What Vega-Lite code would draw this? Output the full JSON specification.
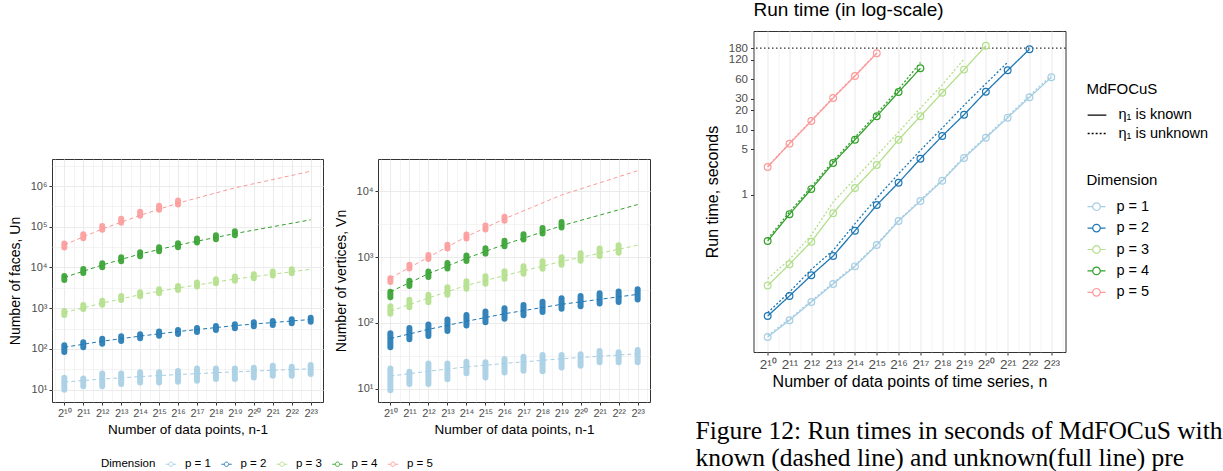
{
  "$schema": "https://vega.github.io/schema/vega-lite/v6.json",
  "padding": {"left": 7, "top": 0, "right": 0, "bottom": 0},
  "background": "white",
  "config": {
    "font": "Liberation Sans",
    "view": {"stroke": "#333333", "strokeWidth": 1},
    "axis": {"domain": false, "tickColor": "#333333", "tickSize": 3, "tickWidth": 1, "labelColor": "#4d4d4d", "titleColor": "black", "titleFontWeight": "normal", "gridColor": "#ebebeb", "labelFlush": false, "labelOverlap": false, "grid": true},
    "legend": {"titleFontWeight": "normal", "titleColor": "black", "labelColor": "black", "padding": 0, "symbolFillColor": "transparent"},
    "title": {"fontWeight": "normal", "color": "black"}
  },
  "datasets": {
    "faces": [
      {"dim":"p = 1","k":10,"lo":10.0,"hi":19.7},{"dim":"p = 1","k":11,"lo":12.1,"hi":19.0},{"dim":"p = 1","k":12,"lo":12.1,"hi":25.2},{"dim":"p = 1","k":13,"lo":13.8,"hi":25.2},{"dim":"p = 1","k":14,"lo":15.1,"hi":26.7},{"dim":"p = 1","k":15,"lo":15.1,"hi":26.7},{"dim":"p = 1","k":16,"lo":15.7,"hi":28.7},{"dim":"p = 1","k":17,"lo":16.6,"hi":33.4},{"dim":"p = 1","k":18,"lo":18.3,"hi":33.4},{"dim":"p = 1","k":19,"lo":18.3,"hi":33.4},{"dim":"p = 1","k":20,"lo":20.1,"hi":34.7},{"dim":"p = 1","k":21,"lo":22.1,"hi":38.8},{"dim":"p = 1","k":22,"lo":22.1,"hi":36.7},{"dim":"p = 1","k":23,"lo":24.3,"hi":40.3},
      {"dim":"p = 2","k":10,"lo":84,"hi":124},{"dim":"p = 2","k":11,"lo":111,"hi":147},{"dim":"p = 2","k":12,"lo":135,"hi":178},{"dim":"p = 2","k":13,"lo":156,"hi":206},{"dim":"p = 2","k":14,"lo":183,"hi":230},{"dim":"p = 2","k":15,"lo":212,"hi":267},{"dim":"p = 2","k":16,"lo":234,"hi":293},{"dim":"p = 2","k":17,"lo":262,"hi":328},{"dim":"p = 2","k":18,"lo":293,"hi":367},{"dim":"p = 2","k":19,"lo":322,"hi":404},{"dim":"p = 2","k":20,"lo":362,"hi":454},{"dim":"p = 2","k":21,"lo":389,"hi":488},{"dim":"p = 2","k":22,"lo":429,"hi":538},{"dim":"p = 2","k":23,"lo":469,"hi":588},
      {"dim":"p = 3","k":10,"lo":684,"hi":858},{"dim":"p = 3","k":11,"lo":962,"hi":1206},{"dim":"p = 3","k":12,"lo":1223,"hi":1534},{"dim":"p = 3","k":13,"lo":1598,"hi":2005},{"dim":"p = 3","k":14,"lo":1973,"hi":2475},{"dim":"p = 3","k":15,"lo":2339,"hi":2934},{"dim":"p = 3","k":16,"lo":2813,"hi":3528},{"dim":"p = 3","k":17,"lo":3393,"hi":4256},{"dim":"p = 3","k":18,"lo":4107,"hi":5152},{"dim":"p = 3","k":19,"lo":4759,"hi":5970},{"dim":"p = 3","k":20,"lo":5455,"hi":6843},{"dim":"p = 3","k":21,"lo":6321,"hi":7930},{"dim":"p = 3","k":22,"lo":7241,"hi":9083},
      {"dim":"p = 4","k":10,"lo":4960,"hi":6220},{"dim":"p = 4","k":11,"lo":7370,"hi":9240},{"dim":"p = 4","k":12,"lo":10200,"hi":12800},{"dim":"p = 4","k":13,"lo":14300,"hi":17900},{"dim":"p = 4","k":14,"lo":18900,"hi":23700},{"dim":"p = 4","k":15,"lo":25200,"hi":31600},{"dim":"p = 4","k":16,"lo":31500,"hi":39500},{"dim":"p = 4","k":17,"lo":40900,"hi":51300},{"dim":"p = 4","k":18,"lo":49600,"hi":62200},{"dim":"p = 4","k":19,"lo":62100,"hi":78000},
      {"dim":"p = 5","k":10,"lo":30800,"hi":38600},{"dim":"p = 5","k":11,"lo":52400,"hi":65700},{"dim":"p = 5","k":12,"lo":83900,"hi":105000},{"dim":"p = 5","k":13,"lo":125000,"hi":157000},{"dim":"p = 5","k":14,"lo":186000,"hi":233000},{"dim":"p = 5","k":15,"lo":260000,"hi":326000},{"dim":"p = 5","k":16,"lo":352000,"hi":441000}
    ],
    "faces_fit": [
      {"dim":"p = 1","k":10,"u":15.4},{"dim":"p = 1","k":12,"u":18.3},{"dim":"p = 1","k":14,"u":21.0},{"dim":"p = 1","k":16,"u":23.6},{"dim":"p = 1","k":19,"u":27.5},{"dim":"p = 1","k":23,"u":32.8},
      {"dim":"p = 2","k":10,"u":110},{"dim":"p = 2","k":12,"u":155},{"dim":"p = 2","k":14,"u":207},{"dim":"p = 2","k":16,"u":268},{"dim":"p = 2","k":19,"u":375},{"dim":"p = 2","k":23,"u":530},
      {"dim":"p = 3","k":10,"u":780},{"dim":"p = 3","k":12,"u":1340},{"dim":"p = 3","k":14,"u":2150},{"dim":"p = 3","k":16,"u":3150},{"dim":"p = 3","k":19,"u":5200},{"dim":"p = 3","k":23,"u":9000},
      {"dim":"p = 4","k":10,"u":5700},{"dim":"p = 4","k":12,"u":11500},{"dim":"p = 4","k":14,"u":21500},{"dim":"p = 4","k":16,"u":35500},{"dim":"p = 4","k":19,"u":68000},{"dim":"p = 4","k":23,"u":148000},
      {"dim":"p = 5","k":10,"u":36000},{"dim":"p = 5","k":12,"u":88000},{"dim":"p = 5","k":14,"u":190000},{"dim":"p = 5","k":16,"u":380000},{"dim":"p = 5","k":19,"u":900000},{"dim":"p = 5","k":23,"u":2300000}
    ],
    "vertices": [
      {"dim":"p = 1","k":10,"lo":9.5,"hi":20.4},{"dim":"p = 1","k":11,"lo":11.8,"hi":18.2},{"dim":"p = 1","k":12,"lo":11.8,"hi":24.3},{"dim":"p = 1","k":13,"lo":14.0,"hi":24.3},{"dim":"p = 1","k":14,"lo":17.3,"hi":25.8},{"dim":"p = 1","k":15,"lo":14.9,"hi":25.2},{"dim":"p = 1","k":16,"lo":17.7,"hi":28.3},{"dim":"p = 1","k":17,"lo":18.8,"hi":30.7},{"dim":"p = 1","k":18,"lo":18.4,"hi":32.6},{"dim":"p = 1","k":19,"lo":21.1,"hi":32.6},{"dim":"p = 1","k":20,"lo":22.4,"hi":33.4},{"dim":"p = 1","k":21,"lo":25.2,"hi":37.5},{"dim":"p = 1","k":22,"lo":25.2,"hi":35.8},{"dim":"p = 1","k":23,"lo":25.2,"hi":38.9},
      {"dim":"p = 2","k":10,"lo":42.7,"hi":69.9},{"dim":"p = 2","k":11,"lo":56.6,"hi":84.2},{"dim":"p = 2","k":12,"lo":63.6,"hi":94.7},{"dim":"p = 2","k":13,"lo":75.8,"hi":112.9},{"dim":"p = 2","k":14,"lo":91.7,"hi":132},{"dim":"p = 2","k":15,"lo":103,"hi":149},{"dim":"p = 2","k":16,"lo":116,"hi":167},{"dim":"p = 2","k":17,"lo":131,"hi":188},{"dim":"p = 2","k":18,"lo":147,"hi":211},{"dim":"p = 2","k":19,"lo":165,"hi":238},{"dim":"p = 2","k":20,"lo":179,"hi":258},{"dim":"p = 2","k":21,"lo":197,"hi":283},{"dim":"p = 2","k":22,"lo":208,"hi":300},{"dim":"p = 2","k":23,"lo":227,"hi":326},
      {"dim":"p = 3","k":10,"lo":138,"hi":179},{"dim":"p = 3","k":11,"lo":174,"hi":226},{"dim":"p = 3","k":12,"lo":207,"hi":269},{"dim":"p = 3","k":13,"lo":268,"hi":348},{"dim":"p = 3","k":14,"lo":330,"hi":429},{"dim":"p = 3","k":15,"lo":394,"hi":512},{"dim":"p = 3","k":16,"lo":469,"hi":610},{"dim":"p = 3","k":17,"lo":560,"hi":727},{"dim":"p = 3","k":18,"lo":668,"hi":868},{"dim":"p = 3","k":19,"lo":768,"hi":998},{"dim":"p = 3","k":20,"lo":883,"hi":1148},{"dim":"p = 3","k":21,"lo":1040,"hi":1352},{"dim":"p = 3","k":22,"lo":1170,"hi":1521},
      {"dim":"p = 4","k":10,"lo":246,"hi":298},{"dim":"p = 4","k":11,"lo":363,"hi":439},{"dim":"p = 4","k":12,"lo":498,"hi":603},{"dim":"p = 4","k":13,"lo":675,"hi":817},{"dim":"p = 4","k":14,"lo":875,"hi":1058},{"dim":"p = 4","k":15,"lo":1132,"hi":1370},{"dim":"p = 4","k":16,"lo":1461,"hi":1768},{"dim":"p = 4","k":17,"lo":1847,"hi":2235},{"dim":"p = 4","k":18,"lo":2284,"hi":2763},{"dim":"p = 4","k":19,"lo":2818,"hi":3410},
      {"dim":"p = 5","k":10,"lo":420,"hi":480},{"dim":"p = 5","k":11,"lo":670,"hi":767},{"dim":"p = 5","k":12,"lo":941,"hi":1077},{"dim":"p = 5","k":13,"lo":1353,"hi":1549},{"dim":"p = 5","k":14,"lo":1922,"hi":2201},{"dim":"p = 5","k":15,"lo":2636,"hi":3017},{"dim":"p = 5","k":16,"lo":3577,"hi":4095}
    ],
    "vertices_fit": [
      {"dim":"p = 1","k":10,"v":15.6},{"dim":"p = 1","k":12,"v":18.5},{"dim":"p = 1","k":14,"v":21.5},{"dim":"p = 1","k":16,"v":24.3},{"dim":"p = 1","k":19,"v":28.6},{"dim":"p = 1","k":23,"v":34},
      {"dim":"p = 2","k":10,"v":58},{"dim":"p = 2","k":12,"v":80},{"dim":"p = 2","k":14,"v":106},{"dim":"p = 2","k":16,"v":138},{"dim":"p = 2","k":19,"v":192},{"dim":"p = 2","k":23,"v":272},
      {"dim":"p = 3","k":10,"v":151},{"dim":"p = 3","k":12,"v":240},{"dim":"p = 3","k":14,"v":372},{"dim":"p = 3","k":16,"v":525},{"dim":"p = 3","k":19,"v":860},{"dim":"p = 3","k":23,"v":1520},
      {"dim":"p = 4","k":10,"v":298},{"dim":"p = 4","k":12,"v":560},{"dim":"p = 4","k":14,"v":960},{"dim":"p = 4","k":16,"v":1560},{"dim":"p = 4","k":19,"v":3000},{"dim":"p = 4","k":23,"v":6300},
      {"dim":"p = 5","k":10,"v":480},{"dim":"p = 5","k":12,"v":1000},{"dim":"p = 5","k":14,"v":2050},{"dim":"p = 5","k":16,"v":3830},{"dim":"p = 5","k":19,"v":8800},{"dim":"p = 5","k":23,"v":20600}
    ],
    "runtime": [
      {"dim":"p = 1","type":"η₁ is known","k":10,"t":0.00647},{"dim":"p = 1","type":"η₁ is known","k":11,"t":0.0117},{"dim":"p = 1","type":"η₁ is known","k":12,"t":0.0223},{"dim":"p = 1","type":"η₁ is known","k":13,"t":0.0423},{"dim":"p = 1","type":"η₁ is known","k":14,"t":0.079},{"dim":"p = 1","type":"η₁ is known","k":15,"t":0.168},{"dim":"p = 1","type":"η₁ is known","k":16,"t":0.394},{"dim":"p = 1","type":"η₁ is known","k":17,"t":0.80},{"dim":"p = 1","type":"η₁ is known","k":18,"t":1.64},{"dim":"p = 1","type":"η₁ is known","k":19,"t":3.67},{"dim":"p = 1","type":"η₁ is known","k":20,"t":7.5},{"dim":"p = 1","type":"η₁ is known","k":21,"t":15.3},{"dim":"p = 1","type":"η₁ is known","k":22,"t":31.5},{"dim":"p = 1","type":"η₁ is known","k":23,"t":64},
      {"dim":"p = 2","type":"η₁ is known","k":10,"t":0.0136},{"dim":"p = 2","type":"η₁ is known","k":11,"t":0.0277},{"dim":"p = 2","type":"η₁ is known","k":12,"t":0.0575},{"dim":"p = 2","type":"η₁ is known","k":13,"t":0.114},{"dim":"p = 2","type":"η₁ is known","k":14,"t":0.279},{"dim":"p = 2","type":"η₁ is known","k":15,"t":0.695},{"dim":"p = 2","type":"η₁ is known","k":16,"t":1.53},{"dim":"p = 2","type":"η₁ is known","k":17,"t":3.58},{"dim":"p = 2","type":"η₁ is known","k":18,"t":8.0},{"dim":"p = 2","type":"η₁ is known","k":19,"t":17.0},{"dim":"p = 2","type":"η₁ is known","k":20,"t":38.4},{"dim":"p = 2","type":"η₁ is known","k":21,"t":82},{"dim":"p = 2","type":"η₁ is known","k":22,"t":173},
      {"dim":"p = 3","type":"η₁ is known","k":10,"t":0.040},{"dim":"p = 3","type":"η₁ is known","k":11,"t":0.085},{"dim":"p = 3","type":"η₁ is known","k":12,"t":0.189},{"dim":"p = 3","type":"η₁ is known","k":13,"t":0.52},{"dim":"p = 3","type":"η₁ is known","k":14,"t":1.27},{"dim":"p = 3","type":"η₁ is known","k":15,"t":2.86},{"dim":"p = 3","type":"η₁ is known","k":16,"t":7.0},{"dim":"p = 3","type":"η₁ is known","k":17,"t":16.1},{"dim":"p = 3","type":"η₁ is known","k":18,"t":37},{"dim":"p = 3","type":"η₁ is known","k":19,"t":84},{"dim":"p = 3","type":"η₁ is known","k":20,"t":196},
      {"dim":"p = 4","type":"η₁ is known","k":10,"t":0.194},{"dim":"p = 4","type":"η₁ is known","k":11,"t":0.50},{"dim":"p = 4","type":"η₁ is known","k":12,"t":1.22},{"dim":"p = 4","type":"η₁ is known","k":13,"t":3.07},{"dim":"p = 4","type":"η₁ is known","k":14,"t":7.0},{"dim":"p = 4","type":"η₁ is known","k":15,"t":16.1},{"dim":"p = 4","type":"η₁ is known","k":16,"t":38},{"dim":"p = 4","type":"η₁ is known","k":17,"t":88},
      {"dim":"p = 5","type":"η₁ is known","k":10,"t":2.67},{"dim":"p = 5","type":"η₁ is known","k":11,"t":6.1},{"dim":"p = 5","type":"η₁ is known","k":12,"t":13.6},{"dim":"p = 5","type":"η₁ is known","k":13,"t":30.7},{"dim":"p = 5","type":"η₁ is known","k":14,"t":67},{"dim":"p = 5","type":"η₁ is known","k":15,"t":150},
      {"dim":"p = 1","type":"η₁ is unknown","k":10,"t":0.0068},{"dim":"p = 1","type":"η₁ is unknown","k":11,"t":0.0123},{"dim":"p = 1","type":"η₁ is unknown","k":12,"t":0.0232},{"dim":"p = 1","type":"η₁ is unknown","k":13,"t":0.044},{"dim":"p = 1","type":"η₁ is unknown","k":14,"t":0.082},{"dim":"p = 1","type":"η₁ is unknown","k":15,"t":0.174},{"dim":"p = 1","type":"η₁ is unknown","k":16,"t":0.405},{"dim":"p = 1","type":"η₁ is unknown","k":17,"t":0.83},{"dim":"p = 1","type":"η₁ is unknown","k":18,"t":1.70},{"dim":"p = 1","type":"η₁ is unknown","k":19,"t":3.82},{"dim":"p = 1","type":"η₁ is unknown","k":20,"t":7.8},{"dim":"p = 1","type":"η₁ is unknown","k":21,"t":16.0},{"dim":"p = 1","type":"η₁ is unknown","k":22,"t":33.5},{"dim":"p = 1","type":"η₁ is unknown","k":23,"t":68},
      {"dim":"p = 2","type":"η₁ is unknown","k":10,"t":0.0153},{"dim":"p = 2","type":"η₁ is unknown","k":11,"t":0.0318},{"dim":"p = 2","type":"η₁ is unknown","k":12,"t":0.071},{"dim":"p = 2","type":"η₁ is unknown","k":13,"t":0.139},{"dim":"p = 2","type":"η₁ is unknown","k":14,"t":0.358},{"dim":"p = 2","type":"η₁ is unknown","k":15,"t":0.89},{"dim":"p = 2","type":"η₁ is unknown","k":16,"t":2.1},{"dim":"p = 2","type":"η₁ is unknown","k":17,"t":4.8},{"dim":"p = 2","type":"η₁ is unknown","k":18,"t":10.6},{"dim":"p = 2","type":"η₁ is unknown","k":19,"t":23.7},{"dim":"p = 2","type":"η₁ is unknown","k":20,"t":51},{"dim":"p = 2","type":"η₁ is unknown","k":21,"t":109},
      {"dim":"p = 3","type":"η₁ is unknown","k":10,"t":0.051},{"dim":"p = 3","type":"η₁ is unknown","k":11,"t":0.101},{"dim":"p = 3","type":"η₁ is unknown","k":12,"t":0.24},{"dim":"p = 3","type":"η₁ is unknown","k":13,"t":0.77},{"dim":"p = 3","type":"η₁ is unknown","k":14,"t":1.76},{"dim":"p = 3","type":"η₁ is unknown","k":15,"t":4.0},{"dim":"p = 3","type":"η₁ is unknown","k":16,"t":9.2},{"dim":"p = 3","type":"η₁ is unknown","k":17,"t":21.6},{"dim":"p = 3","type":"η₁ is unknown","k":18,"t":49},{"dim":"p = 3","type":"η₁ is unknown","k":19,"t":122},
      {"dim":"p = 4","type":"η₁ is unknown","k":10,"t":0.21},{"dim":"p = 4","type":"η₁ is unknown","k":11,"t":0.54},{"dim":"p = 4","type":"η₁ is unknown","k":12,"t":1.32},{"dim":"p = 4","type":"η₁ is unknown","k":13,"t":3.3},{"dim":"p = 4","type":"η₁ is unknown","k":14,"t":7.6},{"dim":"p = 4","type":"η₁ is unknown","k":15,"t":17.6},{"dim":"p = 4","type":"η₁ is unknown","k":16,"t":42},{"dim":"p = 4","type":"η₁ is unknown","k":17,"t":108},
      {"dim":"p = 5","type":"η₁ is unknown","k":10,"t":2.72},{"dim":"p = 5","type":"η₁ is unknown","k":11,"t":6.2},{"dim":"p = 5","type":"η₁ is unknown","k":12,"t":13.9},{"dim":"p = 5","type":"η₁ is unknown","k":13,"t":31.3},{"dim":"p = 5","type":"η₁ is unknown","k":14,"t":68.5},{"dim":"p = 5","type":"η₁ is unknown","k":15,"t":153}
    ],
    "limit": [{"t": 180}],
    "caption": [
      {"line": 1, "text": "Figure 12: Run times in seconds of MdFOCuS with"},
      {"line": 2, "text": "known (dashed line) and unknown(full line) pre"}
    ]
  },
  "spacing": 44.5,
  "hconcat": [
    {
      "spacing": 0,
      "bounds": "flush",
      "vconcat": [
        {"width": 10, "height": 128, "view": {"stroke": null}, "data": {"values": []}, "mark": "text"},
        {
          "spacing": 55,
          "bounds": "flush",
          "resolve": {"legend": {"color": "independent"}},
          "hconcat": [
            {
              "width": 271, "height": 243,
              "resolve": {"axis": {"x": "independent", "y": "independent"}},
              "layer": [
                {
                  "data": {"name": "faces"},
                  "mark": {"type": "rule", "strokeCap": "round", "opacity": 0.9},
                  "encoding": {
                    "x": {"field": "k", "type": "quantitative", "scale": {"domain": [9.35, 23.65], "nice": false, "zero": false},
                      "axis": {"values": [9.5,10,10.5,11,11.5,12,12.5,13,13.5,14,14.5,15,15.5,16,16.5,17,17.5,18,18.5,19,19.5,20,20.5,21,21.5,22,22.5,23,23.5],
                        "labelExpr": "datum.value % 1 === 0 ? '2' + ['⁰','¹','²','³','⁴','⁵','⁶','⁷','⁸','⁹'][floor(datum.value / 10)] + ['⁰','¹','²','³','⁴','⁵','⁶','⁷','⁸','⁹'][datum.value % 10] : ''",
                        "gridWidth": {"condition": {"test": "datum.value % 1 === 0", "value": 1.1}, "value": 0.55},
                        "tickOpacity": {"condition": {"test": "datum.value % 1 === 0", "value": 1}, "value": 0},
                        "labelOverlap": false, "labelFontSize": 11, "labelPadding": 2, "title": "Number of data points, n-1", "titleFontSize": 13.5, "titlePadding": 4}},
                    "y": {"field": "lo", "type": "quantitative", "scale": {"type": "log", "domain": [5, 4600000], "nice": false},
                      "axis": {"values": [10,31.62,100,316.2,1000,3162,10000,31623,100000,316228,1000000,3162278],
                        "labelExpr": "abs(log(datum.value) / LN10 - round(log(datum.value) / LN10)) < 0.01 ? '10' + ['⁰','¹','²','³','⁴','⁵','⁶','⁷','⁸','⁹'][round(log(datum.value) / LN10)] : ''",
                        "gridWidth": {"condition": {"test": "abs(log(datum.value) / LN10 - round(log(datum.value) / LN10)) < 0.01", "value": 1.1}, "value": 0.55},
                        "tickOpacity": {"condition": {"test": "abs(log(datum.value) / LN10 - round(log(datum.value) / LN10)) < 0.01", "value": 1}, "value": 0},
                        "labelOverlap": false, "labelFontSize": 11, "labelPadding": 2, "title": "Number of faces, Un", "titleFontSize": 14, "titlePadding": 8}},
                    "y2": {"field": "hi"},
                    "color": {"field": "dim", "type": "nominal", "scale": {"domain": ["p = 1","p = 2","p = 3","p = 4","p = 5"], "range": ["#a6cee3","#1f78b4","#b2df8a","#33a02c","#fb9a99"]}, "legend": null},
                    "strokeWidth": {"value": 6}
                  }
                },
                {
                  "data": {"name": "faces_fit"},
                  "mark": {"type": "line"},
                  "encoding": {
                    "x": {"field": "k", "type": "quantitative", "axis": null},
                    "y": {"field": "u", "type": "quantitative", "axis": null},
                    "color": {"field": "dim", "type": "nominal", "scale": {"domain": ["p = 1","p = 2","p = 3","p = 4","p = 5"], "range": ["#a6cee3","#1f78b4","#b2df8a","#33a02c","#fb9a99"]}, "legend": null},
                    "strokeDash": {"value": [4, 3]},
                    "strokeWidth": {"value": 1}
                  }
                }
              ]
            },
            {
              "width": 272, "height": 243,
              "resolve": {"axis": {"x": "independent", "y": "independent"}},
              "layer": [
                {
                  "data": {"name": "vertices"},
                  "mark": {"type": "rule", "strokeCap": "round", "opacity": 0.9},
                  "encoding": {
                    "x": {"field": "k", "type": "quantitative", "scale": {"domain": [9.35, 23.65], "nice": false, "zero": false},
                      "axis": {"values": [9.5,10,10.5,11,11.5,12,12.5,13,13.5,14,14.5,15,15.5,16,16.5,17,17.5,18,18.5,19,19.5,20,20.5,21,21.5,22,22.5,23,23.5],
                        "labelExpr": "datum.value % 1 === 0 ? '2' + ['⁰','¹','²','³','⁴','⁵','⁶','⁷','⁸','⁹'][floor(datum.value / 10)] + ['⁰','¹','²','³','⁴','⁵','⁶','⁷','⁸','⁹'][datum.value % 10] : ''",
                        "gridWidth": {"condition": {"test": "datum.value % 1 === 0", "value": 1.1}, "value": 0.55},
                        "tickOpacity": {"condition": {"test": "datum.value % 1 === 0", "value": 1}, "value": 0},
                        "labelOverlap": false, "labelFontSize": 11, "labelPadding": 2, "title": "Number of data points, n-1", "titleFontSize": 13.5, "titlePadding": 4}},
                    "y": {"field": "lo", "type": "quantitative", "scale": {"type": "log", "domain": [6.3, 31000], "nice": false},
                      "axis": {"values": [10,31.62,100,316.2,1000,3162,10000],
                        "labelExpr": "abs(log(datum.value) / LN10 - round(log(datum.value) / LN10)) < 0.01 ? '10' + ['⁰','¹','²','³','⁴','⁵','⁶','⁷','⁸','⁹'][round(log(datum.value) / LN10)] : ''",
                        "gridWidth": {"condition": {"test": "abs(log(datum.value) / LN10 - round(log(datum.value) / LN10)) < 0.01", "value": 1.1}, "value": 0.55},
                        "tickOpacity": {"condition": {"test": "abs(log(datum.value) / LN10 - round(log(datum.value) / LN10)) < 0.01", "value": 1}, "value": 0},
                        "labelOverlap": false, "labelFontSize": 11, "labelPadding": 2, "title": "Number of vertices, Vn", "titleFontSize": 14, "titlePadding": 8}},
                    "y2": {"field": "hi"},
                    "color": {"field": "dim", "type": "nominal", "scale": {"domain": ["p = 1","p = 2","p = 3","p = 4","p = 5"], "range": ["#a6cee3","#1f78b4","#b2df8a","#33a02c","#fb9a99"]},
                      "legend": {"orient": "none", "legendX": -277, "legendY": 299, "direction": "horizontal", "title": "Dimension", "titleOrient": "left", "symbolType": "M-1,0L-0.42,0M0.42,0L1,0M0.42,0A0.42,0.42,0,1,1,-0.42,0A0.42,0.42,0,1,1,0.42,0", "symbolSize": 110, "symbolStrokeWidth": 1, "symbolFillColor": "transparent", "labelFontSize": 11.5, "titleFontSize": 11.5, "labelOffset": 8, "columnPadding": 7.5, "titlePadding": 9}},
                    "strokeWidth": {"value": 6}
                  }
                },
                {
                  "data": {"name": "vertices_fit"},
                  "mark": {"type": "line"},
                  "encoding": {
                    "x": {"field": "k", "type": "quantitative", "axis": null},
                    "y": {"field": "v", "type": "quantitative", "axis": null},
                    "color": {"field": "dim", "type": "nominal", "scale": {"domain": ["p = 1","p = 2","p = 3","p = 4","p = 5"], "range": ["#a6cee3","#1f78b4","#b2df8a","#33a02c","#fb9a99"]}, "legend": null},
                    "strokeDash": {"value": [4, 3]},
                    "strokeWidth": {"value": 1}
                  }
                }
              ]
            }
          ]
        }
      ]
    },
    {
      "spacing": 81.2,
      "bounds": "flush",
      "resolve": {"legend": {"color": "independent", "strokeDash": "independent"}},
      "vconcat": [
        {
          "width": 312, "height": 321,
          "title": {"text": "Run time (in log-scale)", "anchor": "start", "frame": "group", "fontSize": 19, "baseline": "alphabetic", "offset": -4},
          "resolve": {"axis": {"x": "independent", "y": "independent"}},
          "layer": [
            {
              "data": {"name": "limit"},
              "mark": {"type": "rule", "color": "black", "strokeDash": [1.5, 2.5], "strokeWidth": 1},
              "encoding": {"y": {"field": "t", "type": "quantitative", "axis": null}}
            },
            {
              "data": {"name": "runtime"},
              "mark": {"type": "line", "strokeWidth": 1.3},
              "encoding": {
                "x": {"field": "k", "type": "quantitative", "scale": {"domain": [9.35, 23.65], "nice": false, "zero": false},
                  "axis": {"values": [9.5,10,10.5,11,11.5,12,12.5,13,13.5,14,14.5,15,15.5,16,16.5,17,17.5,18,18.5,19,19.5,20,20.5,21,21.5,22,22.5,23,23.5],
                    "labelExpr": "datum.value % 1 === 0 ? '2' + ['⁰','¹','²','³','⁴','⁵','⁶','⁷','⁸','⁹'][floor(datum.value / 10)] + ['⁰','¹','²','³','⁴','⁵','⁶','⁷','⁸','⁹'][datum.value % 10] : ''",
                    "gridWidth": {"condition": {"test": "datum.value % 1 === 0", "value": 1.1}, "value": 0.55},
                    "tickOpacity": {"condition": {"test": "datum.value % 1 === 0", "value": 1}, "value": 0},
                    "labelOverlap": false, "labelFontSize": 13.5, "labelPadding": 2, "title": "Number of data points of time series, n", "titleFontSize": 16, "titlePadding": 3}},
                "y": {"field": "t", "type": "quantitative", "scale": {"type": "log", "domain": [0.0038, 330], "nice": false},
                  "axis": {"values": [0.2,0.4472,1,2.236,5,7.071,10,14.14,20,24.49,30,42.43,60,84.85,120,147,180,220,270],
                    "labelExpr": "indexof([1,5,10,20,30,60,120,180], datum.value) >= 0 ? '' + datum.value : ''",
                    "gridWidth": {"condition": {"test": "indexof([1,5,10,20,30,60,120,180], datum.value) >= 0", "value": 1.1}, "value": 0.55},
                    "tickOpacity": {"condition": {"test": "indexof([1,5,10,20,30,60,120,180], datum.value) >= 0", "value": 1}, "value": 0},
                    "labelOverlap": false, "labelFontSize": 11.5, "labelPadding": 3, "title": "Run time, seconds", "titleFontSize": 16, "titlePadding": 7.5}},
                "color": {"field": "dim", "type": "nominal", "scale": {"domain": ["p = 1","p = 2","p = 3","p = 4","p = 5"], "range": ["#a6cee3","#1f78b4","#b2df8a","#33a02c","#fb9a99"]},
                  "legend": {"orient": "none", "legendX": 333, "legendY": 141.7, "title": "Dimension", "symbolType": "M-1,0L-0.42,0M0.42,0L1,0M0.42,0A0.42,0.42,0,1,1,-0.42,0A0.42,0.42,0,1,1,0.42,0", "symbolSize": 324, "symbolStrokeWidth": 1.2, "symbolFillColor": "transparent", "labelFontSize": 14.5, "titleFontSize": 15, "labelOffset": 10, "rowPadding": 4.4, "titlePadding": 9}},
                "strokeDash": {"field": "type", "type": "nominal", "scale": {"domain": ["η₁ is known", "η₁ is unknown"], "range": [[1, 0], [2, 2]]},
                  "legend": {"orient": "none", "legendX": 333, "legendY": 50.7, "title": "MdFOCuS", "symbolType": "stroke", "symbolSize": 350, "symbolStrokeColor": "black", "symbolStrokeWidth": 1.3, "labelFontSize": 14.5, "titleFontSize": 15, "labelOffset": 11, "rowPadding": 1.3, "titlePadding": 8}}
              }
            },
            {
              "data": {"name": "runtime"},
              "transform": [{"filter": "datum.type === 'η₁ is known'"}],
              "mark": {"type": "point", "shape": "circle", "filled": false, "size": 45, "strokeWidth": 1.2, "opacity": 1},
              "encoding": {
                "x": {"field": "k", "type": "quantitative", "axis": null},
                "y": {"field": "t", "type": "quantitative", "axis": null},
                "color": {"field": "dim", "type": "nominal", "scale": {"domain": ["p = 1","p = 2","p = 3","p = 4","p = 5"], "range": ["#a6cee3","#1f78b4","#b2df8a","#33a02c","#fb9a99"]}, "legend": null}
              }
            }
          ]
        },
        {
          "width": 470, "height": 38.2,
          "view": {"stroke": null},
          "data": {"name": "caption"},
          "mark": {"type": "text", "font": "Liberation Serif", "fontSize": 25.5, "align": "left", "baseline": "alphabetic", "dx": -58, "limit": 529, "ellipsis": " ", "color": "black"},
          "encoding": {
            "x": {"datum": 0, "type": "quantitative", "scale": {"domain": [0, 1]}, "axis": null},
            "y": {"field": "line", "type": "ordinal", "scale": {"padding": 0.2}, "axis": null},
            "text": {"field": "text"}
          }
        }
      ]
    }
  ]
}
